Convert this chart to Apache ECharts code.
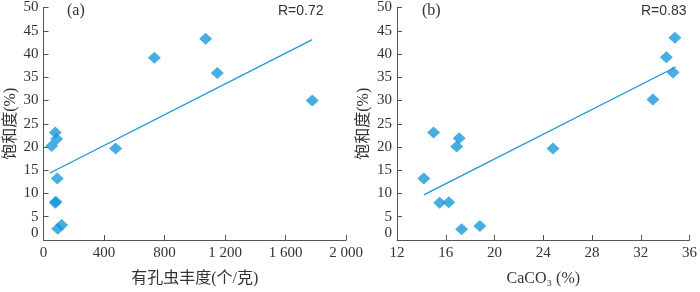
<!DOCTYPE html>
<html><head><meta charset="utf-8">
<script src="https://cdn.jsdelivr.net/npm/echarts@6/dist/echarts.min.js"></script>
<style>html,body{margin:0;padding:0;background:#fff}#c{width:700px;height:292px}</style>
</head><body><div id="c"></div>
<script>
// Panel (a): foraminifera abundance vs saturation
const abundA = [54, 78, 87, 91, 78, 82, 94, 120, 477, 733, 1072, 1149, 1777];
const satA   = [20.2, 23.1, 21.7, 13.2, 8.0, 8.2, 2.4, 3.2, 19.7, 39.2, 43.3, 35.9, 30.0];
const fitAx  = [43, 1777];
const fitAy  = [14.4, 43.1];
// Panel (b): CaCO3 vs saturation
const caco3B = [15.0, 17.1, 16.9, 14.2, 15.5, 16.25, 17.3, 18.8, 24.8, 33.0, 34.1, 34.65, 34.8];
const satB   = [23.1, 21.9, 20.1, 13.2, 8.0, 8.1, 2.3, 3.0, 19.7, 30.2, 39.3, 36.0, 43.5];
const fitBx  = [14.2, 34.87];
const fitBy  = [9.7, 37.2];
const xTicksA = ['0', '400', '800', '1 200', '1 600', '2 000'];
const yTicks = ['0','5','10','15','20','25','30','35','40','45','50'];
const labelsTxt = ['(a)', 'R=0.72', '(b)', 'R=0.83'];
const yName = '饱和度(%)';
const xNameA = '有孔虫丰度(个/克)';
const xNameB = 'CaCO₃ (%)';

const blue = '#1a98d8';
const axisColor = '#555';
const serif = '"Liberation Serif","Noto Sans CJK SC",serif';
const tickLabel = {color:'#333', fontFamily: serif, fontSize: 15};

function xAx(idx, min, max, interval, fmt, name){
  return {gridIndex: idx, type:'value', min, max, interval,
    axisLine:{show:true, lineStyle:{color:axisColor}},
    axisTick:{show:true, inside:true, length:5, lineStyle:{color:axisColor}},
    axisLabel:{...tickLabel, margin:6, formatter: fmt},
    splitLine:{show:false},
    name, nameLocation:'middle', nameGap:31,
    nameTextStyle:{color:'#333', fontFamily: serif, fontSize:16}};
}
function yAx(idx){
  return {gridIndex: idx, type:'value', min:0, max:50, interval:5,
    axisLine:{show:true, lineStyle:{color:axisColor}},
    axisTick:{show:true, inside:true, length:5, lineStyle:{color:axisColor}},
    axisLabel:{...tickLabel, margin:5,
      formatter: v => v === 0 ? '{z|' + yTicks[0] + '}' : yTicks[Math.round(v/5)],
      rich:{z:{color:'#333', fontFamily: serif, fontSize:15, padding:[0,0,14,0]}}},
    splitLine:{show:false},
    name: yName, nameLocation:'middle', nameGap:25,
    nameTextStyle:{color:'#333', fontFamily: serif, fontSize:16}};
}

const chart = echarts.init(document.getElementById('c'), null, {renderer:'canvas'});
chart.setOption({
  animation:false,
  backgroundColor:'#fff',
  grid:[
    {left:43.5, right:354, top:7.5, bottom:42},
    {left:397, right:8.5, top:7.5, bottom:42}
  ],
  xAxis:[
    xAx(0, 0, 2000, 400, v => xTicksA[Math.round(v/400)], xNameA),
    xAx(1, 12, 36, 4, v => String(v), xNameB)
  ],
  yAxis:[yAx(0), yAx(1)],
  series:[
    {type:'scatter', xAxisIndex:0, yAxisIndex:0, symbol:'diamond', symbolSize:[13,12],
     itemStyle:{color:blue}, data: abundA.map((x,i)=>[x, satA[i]])},
    {type:'line', xAxisIndex:0, yAxisIndex:0, symbol:'none', lineStyle:{color:blue, width:1.3},
     data: fitAx.map((x,i)=>[x, fitAy[i]])},
    {type:'scatter', xAxisIndex:1, yAxisIndex:1, symbol:'diamond', symbolSize:[13,12],
     itemStyle:{color:blue}, data: caco3B.map((x,i)=>[x, satB[i]])},
    {type:'line', xAxisIndex:1, yAxisIndex:1, symbol:'none', lineStyle:{color:blue, width:1.3},
     data: fitBx.map((x,i)=>[x, fitBy[i]])}
  ],
  graphic:[
    {type:'text', left:67, top:3, style:{text:labelsTxt[0], fill:'#333', font:'16px '+serif}},
    {type:'text', left:278, top:4, style:{text:labelsTxt[1], fill:'#333', font:'14px "Liberation Sans",Arial,sans-serif'}},
    {type:'text', left:422, top:3, style:{text:labelsTxt[2], fill:'#333', font:'16px '+serif}},
    {type:'text', left:641, top:4, style:{text:labelsTxt[3], fill:'#333', font:'14px "Liberation Sans",Arial,sans-serif'}}
  ]
});
</script></body></html>
